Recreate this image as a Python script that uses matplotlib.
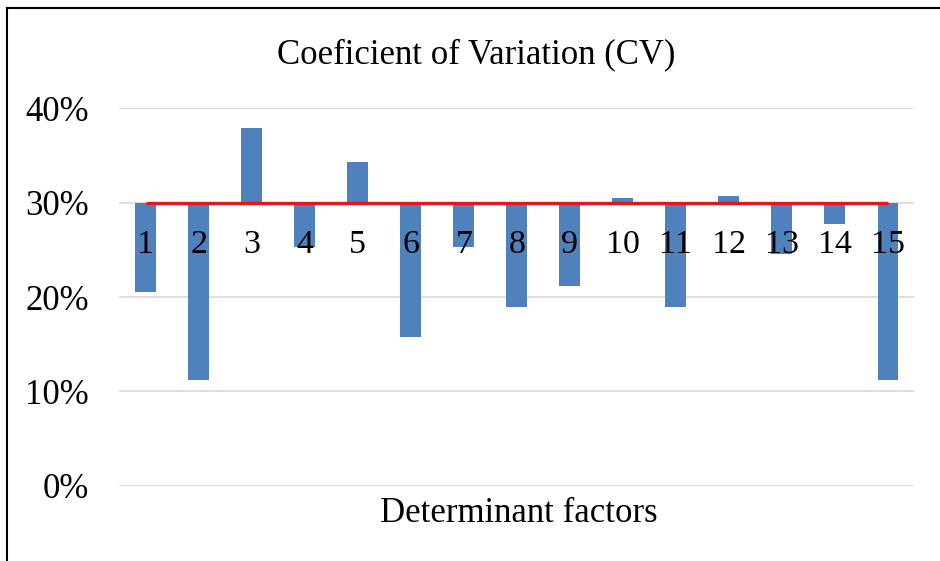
import matplotlib
matplotlib.use("Agg")
import matplotlib.pyplot as plt
from matplotlib.lines import Line2D
from matplotlib.ticker import FuncFormatter

categories = [str(i) for i in range(1, 16)]
cv_values = [0.205, 0.112, 0.379, 0.253, 0.343, 0.158, 0.253, 0.189,
             0.212, 0.305, 0.189, 0.3075, 0.246, 0.2775, 0.112]
threshold = 0.30
yticks = [0.0, 0.1, 0.2, 0.3, 0.4]
title = "Coeficient of Variation (CV)"
xlabel = "Determinant factors"

plt.rcParams['font.family'] = ['Liberation Serif', 'DejaVu Serif']

fig = plt.figure(figsize=(9.4, 5.61), dpi=100)
ax = fig.add_axes([0.1269, 0.1342, 0.9727 - 0.1269, 0.8066 - 0.1342])

x = list(range(1, len(categories) + 1))
heights = [v - threshold for v in cv_values]
ax.bar(x, heights, bottom=threshold, width=0.39, color='#4f81bd', zorder=2)
ax.plot(x, [threshold] * len(x), color='#e3161d', lw=2.4, zorder=3, solid_capstyle='butt')

for xi, c in zip(x, categories):
    ax.text(xi, 0.256, c, ha='center', va='center', fontsize=24.5, zorder=4)

ax.set_xlim(0.5, 15.5)
ax.set_ylim(0, 0.4)
ax.set_yticks(yticks)
ax.yaxis.set_major_formatter(FuncFormatter(lambda v, p: f"{v*100:.0f}%"))
ax.tick_params(axis='y', length=0, pad=22, labelsize=25)
ax.set_xticks([])
ax.grid(axis='y', color='#d9d9d9', lw=1.2, zorder=0)
ax.set_axisbelow(True)
for s in ax.spines.values():
    s.set_visible(False)

fig.text(0.507, 1 - 55 / 561, title, ha='center', va='center', fontsize=25)
fig.text(0.552, 1 - 514 / 561, xlabel, ha='center', va='center', fontsize=25)

# outer frame (top and left edges visible)
fig.add_artist(Line2D([7.5 / 940, 1.0], [1 - 8 / 561, 1 - 8 / 561], color='black', lw=1.5,
                      transform=fig.transFigure))
fig.add_artist(Line2D([7.5 / 940, 7.5 / 940], [0, 1 - 8 / 561], color='black', lw=1.5,
                      transform=fig.transFigure))

fig.savefig("out.png", dpi=100)
